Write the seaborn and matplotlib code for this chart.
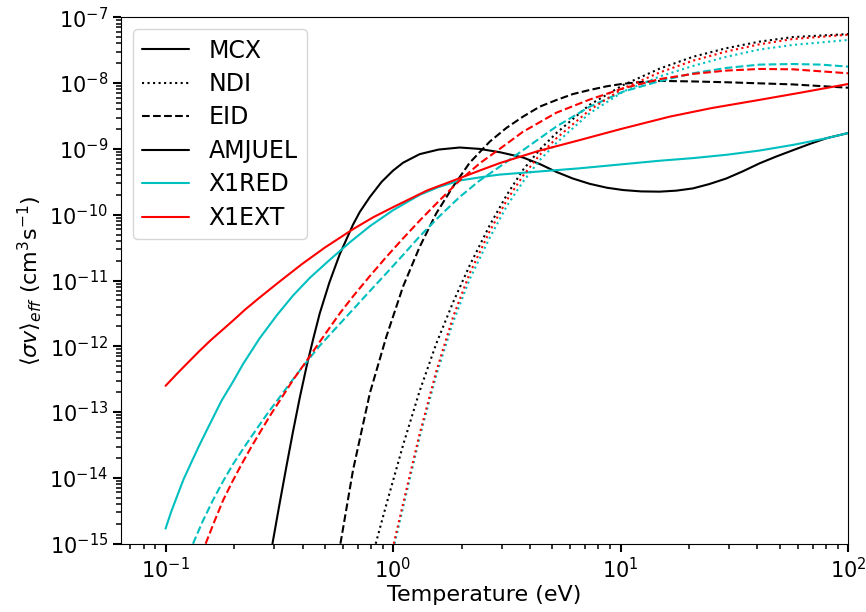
import matplotlib
matplotlib.use("Agg")
import matplotlib.pyplot as plt
from matplotlib.lines import Line2D
import seaborn as sns

# ---------------- data ----------------
# AMJUEL
amj_mcx_T = [0.295, 0.316, 0.340, 0.363, 0.389, 0.417, 0.447, 0.476, 0.525, 0.583, 0.667, 0.714, 0.791,
             0.891, 1.0, 1.107, 1.309, 1.585, 1.963, 2.399, 2.944, 3.724, 4.416, 5.224, 6.166, 7.311,
             8.710, 10.26, 12.30, 14.86, 17.58, 20.80, 24.55, 29.17, 34.51, 40.83, 48.42, 57.28, 67.92,
             80.17, 100]
amj_mcx_rate = [1.0e-15, 3.80e-15, 1.51e-14, 5.01e-14, 1.66e-13, 5.01e-13, 1.35e-12, 3.16e-12, 9.33e-12,
                2.51e-11, 7.08e-11, 1.10e-10, 1.86e-10, 3.16e-10, 4.68e-10, 6.17e-10, 8.32e-10, 9.77e-10,
                1.05e-9, 1.0e-9, 8.91e-10, 7.41e-10, 5.89e-10, 4.47e-10, 3.55e-10, 2.95e-10, 2.57e-10,
                2.37e-10, 2.26e-10, 2.24e-10, 2.32e-10, 2.51e-10, 2.92e-10, 3.55e-10, 4.57e-10, 6.03e-10,
                7.67e-10, 9.55e-10, 1.19e-9, 1.45e-9, 1.74e-9]

amj_eid_T = [0.587, 0.667, 0.791, 0.935, 1.107, 1.309, 1.549, 1.837, 2.173, 2.661, 3.148, 3.724, 4.416,
             5.224, 6.180, 7.311, 8.710, 10.26, 12.30, 14.86, 20.80, 29.17, 57.28, 100]
amj_eid_rate = [1.0e-15, 1.32e-14, 1.95e-13, 1.41e-12, 8.13e-12, 3.24e-11, 1.05e-10, 2.69e-10, 6.17e-10,
                1.29e-9, 2.08e-9, 3.09e-9, 4.39e-9, 5.53e-9, 6.82e-9, 7.85e-9, 8.95e-9, 9.77e-9,
                1.035e-8, 1.08e-8, 1.06e-8, 1.03e-8, 9.55e-9, 8.51e-9]

amj_ndi_T = [0.839, 0.935, 1.107, 1.309, 1.549, 1.837, 2.173, 2.661, 3.162, 3.724, 4.416, 5.224, 7.311,
             10.26, 14.86, 20.80, 29.17, 40.83, 57.28, 100]
amj_ndi_rate = [1.0e-15, 3.98e-15, 3.16e-14, 2.09e-13, 1.10e-12, 4.68e-12, 1.70e-11, 6.92e-11, 2.0e-10,
                4.79e-10, 9.77e-10, 1.74e-9, 4.68e-9, 9.33e-9, 1.66e-8, 2.51e-8, 3.39e-8, 4.27e-8,
                5.01e-8, 5.56e-8]

# X1RED
x1r_mcx_T = [0.1, 0.1057, 0.112, 0.120, 0.130, 0.140, 0.151, 0.163, 0.176, 0.197, 0.219, 0.259, 0.308,
             0.363, 0.431, 0.525, 0.656, 0.794, 1.0, 1.309, 1.585, 1.963, 2.661, 2.944, 6.607, 14.86,
             20.80, 29.17, 40.83, 57.28, 80.17, 100]
x1r_mcx_rate = [1.70e-15, 3.02e-15, 5.13e-15, 9.55e-15, 1.74e-14, 3.02e-14, 5.13e-14, 8.71e-14, 1.48e-13,
                2.82e-13, 5.37e-13, 1.32e-12, 2.95e-12, 5.89e-12, 1.10e-11, 2.04e-11, 3.98e-11, 6.76e-11,
                1.17e-10, 2.0e-10, 2.63e-10, 3.31e-10, 3.89e-10, 4.07e-10, 5.07e-10, 6.61e-10, 7.24e-10,
                8.13e-10, 9.44e-10, 1.15e-9, 1.45e-9, 1.74e-9]

x1r_eid_T = [0.132, 0.146, 0.162, 0.179, 0.198, 0.223, 0.251, 0.282, 0.318, 0.358, 0.403, 0.476, 0.583,
             0.667, 0.791, 0.935, 1.107, 1.309, 1.603, 1.963, 2.404, 2.944, 3.724, 5.224, 7.311, 10.26,
             14.86, 20.80, 29.17, 40.83, 57.28, 75.86, 100]
x1r_eid_rate = [1.0e-15, 2.24e-15, 4.68e-15, 8.91e-15, 1.62e-14, 3.02e-14, 5.50e-14, 9.77e-14, 1.70e-13,
                2.95e-13, 5.01e-13, 1.02e-12, 2.19e-12, 3.63e-12, 6.92e-12, 1.29e-11, 2.45e-11, 4.68e-11,
                9.55e-11, 1.86e-10, 3.31e-10, 5.37e-10, 9.55e-10, 2.19e-9, 4.37e-9, 7.41e-9, 1.07e-8,
                1.41e-8, 1.70e-8, 1.91e-8, 1.95e-8, 1.91e-8, 1.78e-8]

x1r_ndi_T = [1.016, 1.107, 1.309, 1.549, 1.837, 2.173, 2.661, 3.162, 3.724, 4.416, 5.224, 7.311, 10.26,
             14.86, 20.80, 29.17, 40.83, 57.28, 100]
x1r_ndi_rate = [1.0e-15, 3.55e-15, 4.17e-14, 3.63e-13, 2.34e-12, 1.05e-11, 4.47e-11, 1.35e-10, 3.16e-10,
                6.76e-10, 1.23e-9, 3.47e-9, 7.41e-9, 1.26e-8, 1.82e-8, 2.51e-8, 3.24e-8, 3.80e-8, 4.52e-8]

# X1EXT
x1e_mcx_T = [0.1, 0.112, 0.126, 0.141, 0.158, 0.178, 0.2, 0.224, 0.259, 0.316, 0.398, 0.501, 0.667,
             0.817, 1.0, 1.413, 1.963, 2.399, 2.944, 4.365, 6.607, 10.0, 16.44, 25.12, 40.83, 63.10, 100]
x1e_mcx_rate = [2.51e-13, 3.80e-13, 5.75e-13, 8.51e-13, 1.24e-12, 1.78e-12, 2.54e-12, 3.63e-12, 5.50e-12,
                9.55e-12, 1.78e-11, 3.16e-11, 6.03e-11, 9.12e-11, 1.30e-10, 2.34e-10, 3.59e-10, 4.68e-10,
                6.08e-10, 9.33e-10, 1.36e-9, 2.0e-9, 3.09e-9, 4.17e-9, 5.56e-9, 7.24e-9, 9.68e-9]

x1e_eid_T = [0.150, 0.164, 0.179, 0.197, 0.216, 0.239, 0.264, 0.292, 0.324, 0.367, 0.417, 0.476, 0.583,
             0.667, 0.791, 0.935, 1.107, 1.309, 1.603, 1.963, 2.404, 2.944, 3.724, 5.224, 7.311, 10.26,
             14.86, 20.80, 29.17, 40.83, 57.28, 100]
x1e_eid_rate = [1.0e-15, 2.19e-15, 4.57e-15, 8.91e-15, 1.62e-14, 3.02e-14, 5.37e-14, 9.55e-14, 1.66e-13,
                3.24e-13, 6.03e-13, 1.17e-12, 3.16e-12, 5.75e-12, 1.17e-11, 2.29e-11, 4.37e-11, 8.13e-11,
                1.66e-10, 3.31e-10, 6.03e-10, 1.0e-9, 1.82e-9, 3.55e-9, 5.62e-9, 8.32e-9, 1.15e-8,
                1.38e-8, 1.55e-8, 1.64e-8, 1.62e-8, 1.41e-8]

x1e_ndi_T = [1.007, 1.107, 1.309, 1.549, 1.837, 2.173, 2.661, 3.162, 3.724, 4.416, 5.224, 7.311, 10.26,
             14.86, 20.80, 29.17, 40.83, 57.28, 100]
x1e_ndi_rate = [1.0e-15, 4.07e-15, 4.68e-14, 4.17e-13, 2.82e-12, 1.29e-11, 5.62e-11, 1.66e-10, 3.89e-10,
                8.13e-10, 1.45e-9, 3.89e-9, 8.32e-9, 1.45e-8, 2.19e-8, 3.02e-8, 3.89e-8, 4.68e-8, 5.43e-8]

method_labels = ["MCX", "NDI", "EID"]
dataset_labels = ["AMJUEL", "X1RED", "X1EXT"]

# ---------------- style ----------------
sns.set_style("ticks", rc={
    "axes.edgecolor": "black",
    "axes.linewidth": 1.6,
    "xtick.color": "black",
    "ytick.color": "black",
    "text.color": "black",
    "axes.labelcolor": "black",
})
plt.rcParams["font.family"] = ["DejaVu Sans"]
plt.rcParams.update({
    "xtick.major.size": 5.8, "xtick.major.width": 1.5,
    "ytick.major.size": 5.8, "ytick.major.width": 1.5,
    "xtick.minor.size": 3.8, "xtick.minor.width": 1.1,
    "ytick.minor.size": 3.8, "ytick.minor.width": 1.1,
    "xtick.labelsize": 15, "ytick.labelsize": 15,
    "axes.labelsize": 16,
})

colors = {"AMJUEL": "#000000", "X1RED": "#00BFBF", "X1EXT": "#FF0000"}
styles = {"MCX": "-", "NDI": ":", "EID": "--"}
lw = 1.5

fig = plt.figure(figsize=(8.66, 6.12), dpi=100)
ax = fig.add_axes([121 / 866, 1 - 543.7 / 612, (848 - 121) / 866, (543.7 - 17.3) / 612])
ax.set_xscale("log")
ax.set_yscale("log")

curves = [
    (amj_mcx_T, amj_mcx_rate, "AMJUEL", "MCX"),
    (amj_ndi_T, amj_ndi_rate, "AMJUEL", "NDI"),
    (amj_eid_T, amj_eid_rate, "AMJUEL", "EID"),
    (x1r_mcx_T, x1r_mcx_rate, "X1RED", "MCX"),
    (x1r_ndi_T, x1r_ndi_rate, "X1RED", "NDI"),
    (x1r_eid_T, x1r_eid_rate, "X1RED", "EID"),
    (x1e_mcx_T, x1e_mcx_rate, "X1EXT", "MCX"),
    (x1e_ndi_T, x1e_ndi_rate, "X1EXT", "NDI"),
    (x1e_eid_T, x1e_eid_rate, "X1EXT", "EID"),
]
for T, rate, ds, meth in curves:
    sns.lineplot(x=T, y=rate, ax=ax, color=colors[ds], linestyle=styles[meth],
                 linewidth=lw, estimator=None, sort=False, legend=False)

ax.set_xlim(10 ** -1.196, 100)
ax.set_ylim(1e-15, 1e-7)
ax.set_xlabel("Temperature (eV)", labelpad=2)
ax.set_ylabel(r"$\langle\sigma v\rangle_{eff}$ (cm$^3$s$^{-1}$)")

handles = [Line2D([], [], color="black", linestyle=styles[m], linewidth=lw) for m in method_labels]
handles += [Line2D([], [], color=colors[d], linestyle="-", linewidth=lw) for d in dataset_labels]
ax.legend(handles, method_labels + dataset_labels, loc="upper left", fontsize=17, labelspacing=0.4,
          frameon=True, fancybox=True, framealpha=0.8, edgecolor="0.8")

fig.savefig("out.png", dpi=100)
